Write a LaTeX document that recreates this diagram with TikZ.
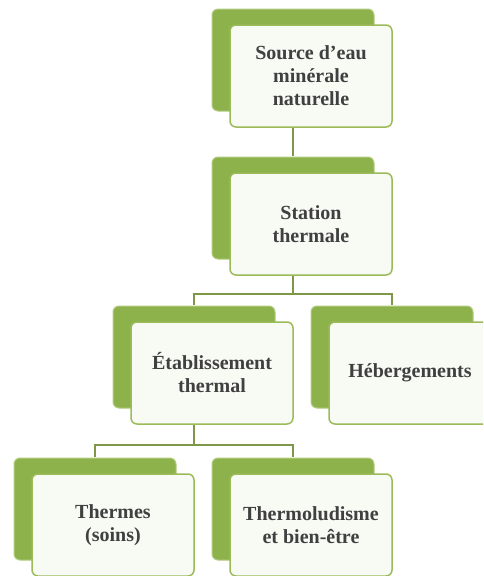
\documentclass[tikz,border=0pt]{standalone}
\usepackage{fontspec}
\setmainfont{Liberation Serif}
\usetikzlibrary{shadows}

\definecolor{backgreen}{RGB}{141,178,76}
\definecolor{backedge}{RGB}{178,204,128}
\definecolor{frontedge}{RGB}{155,187,89}
\definecolor{frontfill}{RGB}{248,250,244}
\definecolor{linkgreen}{RGB}{126,152,72}
\definecolor{textgray}{RGB}{64,64,64}

\begin{document}
\begin{tikzpicture}[x=1pt,y=-1pt,
		card/.style={draw=frontedge,line width=1.5pt,fill=frontfill,rounded corners=6pt,
			minimum width=162pt,minimum height=102pt,align=center,text=textgray,
			font=\bfseries\fontsize{20}{23}\selectfont,
			copy shadow={shadow xshift=-18pt,shadow yshift=16pt,fill=backgreen,draw=backedge,line width=1pt}},
		link/.style={draw=linkgreen,line width=2.2pt}]
			\pgfmathsetmacro{\dx}{-18}
			\pgfmathsetmacro{\dy}{16}
			\clip (0,0) rectangle (483,576);
			\useasboundingbox (0,0) rectangle (483,576);
			% cards
			\node[card] (source) at (311,76) {Source d'eau\\minérale\\naturelle};
			\node[card] (station) at (311,224) {Station\\thermale};
			\node[card] (etab) at (212,373) {Établissement\\thermal};
			\node[card] (heberg) at (410,373) {Hébergements};
			\node[card] (thermes) at (113,525) {Thermes\\(soins)};
			\node[card] (ludisme) at (311,525) {Thermoludisme\\et bien-être};
			% links
			\draw[link] ([xshift=\dx pt]source.south) -- ([xshift=\dx pt,yshift=\dy pt]station.north);
			\draw[link] ([xshift=\dx pt]station.south) -- ++(0,18) -| ([xshift=\dx pt,yshift=\dy pt]etab.north);
			\draw[link] ([xshift=\dx pt]station.south) -- ++(0,18) -| ([xshift=\dx pt,yshift=\dy pt]heberg.north);
			\draw[link] ([xshift=\dx pt]etab.south) -- ++(0,20) -| ([xshift=\dx pt,yshift=\dy pt]thermes.north);
			\draw[link] ([xshift=\dx pt]etab.south) -- ++(0,20) -| ([xshift=\dx pt,yshift=\dy pt]ludisme.north);
		\end{tikzpicture}
\end{document}
